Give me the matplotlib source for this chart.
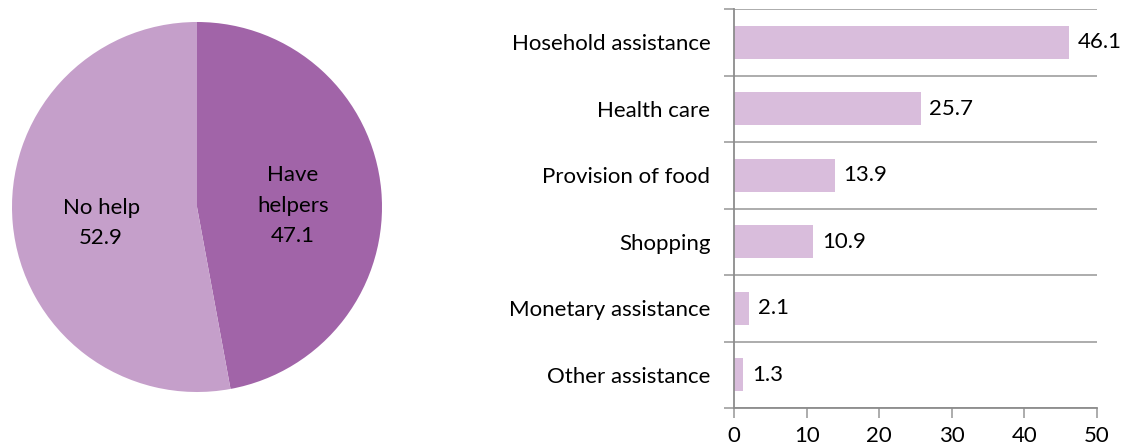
import numpy as np
import matplotlib.pyplot as plt

plt.rcParams['font.family'] = ['Lato', 'DejaVu Sans']

pie_labels = ['Have\nhelpers', 'No help']
pie_values = [47.1, 52.9]
pie_colors = ['#A164A8', '#C59FCA']

categories = ['Hosehold assistance', 'Health care', 'Provision of food',
              'Shopping', 'Monetary assistance', 'Other assistance']
shares = [46.1, 25.7, 13.9, 10.9, 2.1, 1.3]

fig = plt.figure(figsize=(11.22, 4.47), dpi=100)

# pie on the left
ax1 = fig.add_axes([12/1122, 55/447, 370/1122, 370/447])
wedges, _ = ax1.pie(pie_values, colors=pie_colors, startangle=90,
                    counterclock=False, radius=1)
for w, lab, v in zip(wedges, pie_labels, pie_values):
    ang = np.deg2rad((w.theta1 + w.theta2) / 2)
    ax1.text(0.52 * np.cos(ang), 0.52 * np.sin(ang) - 0.04, f'{lab}\n{v}',
             ha='center', va='center', fontsize=16, color='black',
             linespacing=1.65)
ax1.set_xlim(-1, 1)
ax1.set_ylim(-1, 1)
ax1.set_aspect('equal')

# horizontal bars on the right
ax2 = fig.add_axes([734/1122, 39/447, 363/1122, 399/447])
y = np.arange(len(categories))
ax2.barh(y, shares, height=0.5, color='#D9BDDC')
for yi, v in zip(y, shares):
    ax2.text(v + 1.2, yi, f'{v}', va='center', ha='left', fontsize=16)

ax2.set_xlim(0, 50)
ax2.set_ylim(len(categories) - 0.5, -0.5)
ax2.set_xticks(range(0, 51, 10))
ax2.set_yticks(np.arange(-0.5, len(categories)), labels=[])
ax2.set_yticks(y, labels=categories, minor=True)
ax2.tick_params(axis='y', which='major', length=7, color='#A6A6A6', width=1.3)
ax2.tick_params(axis='y', which='minor', length=0, pad=17, labelsize=16)
ax2.tick_params(axis='x', length=7, color='#A6A6A6', width=1.3, labelsize=16, pad=6)
ax2.grid(axis='y', which='major', color='#A6A6A6', linewidth=1.3)
ax2.set_axisbelow(True)
for s in ['top', 'right']:
    ax2.spines[s].set_visible(False)
for s in ['left', 'bottom']:
    ax2.spines[s].set_color('#8C8C8C')
    ax2.spines[s].set_linewidth(1.3)

fig.savefig('out.png', dpi=100)
